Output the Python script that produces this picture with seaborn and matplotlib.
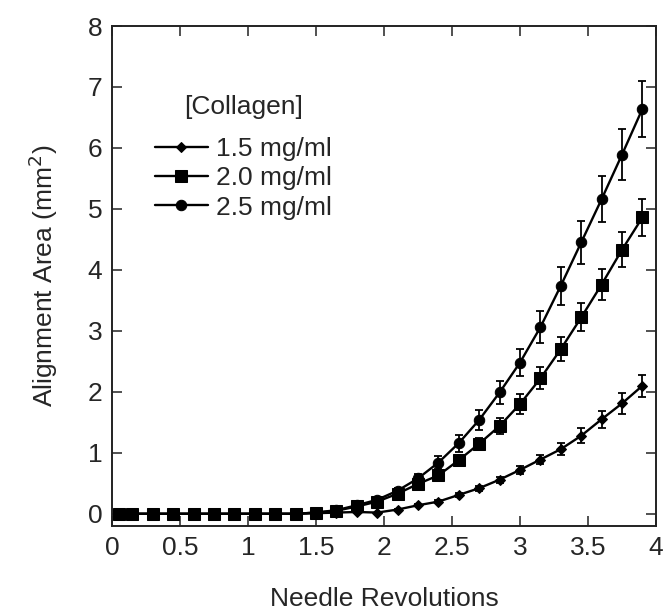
import matplotlib
matplotlib.use('Agg')
import matplotlib.pyplot as plt
import numpy as np
import pandas as pd
import seaborn as sns

# Needle revolutions (shared x for all three series)
revolutions = [0.05, 0.15, 0.30, 0.45, 0.60, 0.75, 0.90, 1.05, 1.20, 1.35,
               1.50, 1.65, 1.80, 1.95, 2.10, 2.25, 2.40, 2.55, 2.70, 2.85,
               3.00, 3.15, 3.30, 3.45, 3.60, 3.75, 3.90]

# Alignment area (mm^2)
area_15 = [0, 0, 0, 0, 0, 0, 0, 0, 0, 0,
           0.01, 0.02, 0.03, 0.02, 0.07, 0.14, 0.20, 0.31, 0.42, 0.56,
           0.72, 0.89, 1.06, 1.28, 1.55, 1.81, 2.10]
area_20 = [0, 0, 0, 0, 0, 0, 0, 0, 0, 0,
           0.02, 0.05, 0.12, 0.20, 0.33, 0.49, 0.63, 0.88, 1.15, 1.44,
           1.80, 2.22, 2.70, 3.22, 3.76, 4.33, 4.86]
area_25 = [0, 0, 0, 0, 0, 0, 0, 0, 0, 0,
           0.02, 0.06, 0.14, 0.23, 0.38, 0.58, 0.84, 1.16, 1.54, 1.99,
           2.48, 3.06, 3.74, 4.45, 5.16, 5.89, 6.64]

# error bar half-lengths
err_15 = [0, 0, 0, 0, 0, 0, 0, 0, 0, 0,
          0, 0, 0, 0, 0.01, 0.02, 0.02, 0.03, 0.04, 0.05,
          0.07, 0.08, 0.10, 0.12, 0.14, 0.17, 0.18]
err_20 = [0, 0, 0, 0, 0, 0, 0, 0, 0, 0,
          0, 0.01, 0.02, 0.02, 0.03, 0.04, 0.06, 0.08, 0.10, 0.13,
          0.16, 0.18, 0.20, 0.23, 0.26, 0.29, 0.31]
err_25 = [0, 0, 0, 0, 0, 0, 0, 0, 0, 0,
          0, 0.01, 0.02, 0.03, 0.05, 0.07, 0.10, 0.14, 0.16, 0.19,
          0.22, 0.26, 0.31, 0.35, 0.38, 0.42, 0.46]

series_names = ['1.5 mg/ml', '2.0 mg/ml', '2.5 mg/ml']
x_ticks = [0, 0.5, 1, 1.5, 2, 2.5, 3, 3.5, 4]
x_ticklabels = ['0', '0.5', '1', '1.5', '2', '2.5', '3', '3.5', '4']
y_ticks = [0, 1, 2, 3, 4, 5, 6, 7, 8]

frames = []
for name, area, err in zip(series_names, [area_15, area_20, area_25],
                           [err_15, err_20, err_25]):
    frames.append(pd.DataFrame({'rev': revolutions, 'area': area,
                                'err': err, 'conc': name}))
df = pd.concat(frames, ignore_index=True)

sns.set_style('ticks')
plt.rcParams['font.family'] = ['Liberation Sans', 'DejaVu Sans']
FS = 19

fig = plt.figure(figsize=(6.63, 6.1), dpi=100)
ax = fig.add_axes([112 / 663, 1 - 526 / 610, 544 / 663, 500 / 610])

markers = {'1.5 mg/ml': ('D', 5.5), '2.0 mg/ml': ('s', 8), '2.5 mg/ml': ('o', 7.5)}
# draw 2.0 last so squares sit on top at the flat start
for name in ['1.5 mg/ml', '2.5 mg/ml', '2.0 mg/ml']:
    d = df[df['conc'] == name]
    ax.errorbar(d['rev'], d['area'], yerr=d['err'], fmt='none', ecolor='black',
                elinewidth=1.3, capsize=2.9, capthick=1.3, zorder=2)
    sns.lineplot(data=d, x='rev', y='area', ax=ax, color='black', lw=1.7,
                 marker=markers[name][0], markersize=markers[name][1],
                 markeredgecolor='black', label=name, zorder=3)

# legend in listed order
handles, labels = ax.get_legend_handles_labels()
order = [labels.index(n) for n in series_names]
leg = ax.legend([handles[i] for i in order], [labels[i] for i in order],
                title='[Collagen]', loc='upper left',
                bbox_to_anchor=(0.079, 0.862), frameon=False,
                fontsize=FS, title_fontsize=FS, borderpad=0, borderaxespad=0,
                handlelength=2.0, handletextpad=0.3, labelspacing=0.2)
# wider gap between the title and the entries
leg._legend_box.sep = 13

ax.set_xlim(0, 4)
ax.set_ylim(-0.2, 8)
ax.set_xticks(x_ticks)
ax.set_xticklabels(x_ticklabels)
ax.set_yticks(y_ticks)
ax.tick_params(direction='in', top=True, right=True, length=7, width=1.1,
               labelsize=FS, color='#222222')
ax.tick_params(axis='x', pad=7)
ax.tick_params(axis='y', pad=7)
for s in ax.spines.values():
    s.set_linewidth(1.4)
    s.set_color('#222222')

ax.set_xlabel('Needle Revolutions', fontsize=FS, labelpad=20)
ax.set_ylabel('Alignment Area (mm$^2$)', fontsize=FS, labelpad=20)

fig.savefig('out.png', dpi=100)
